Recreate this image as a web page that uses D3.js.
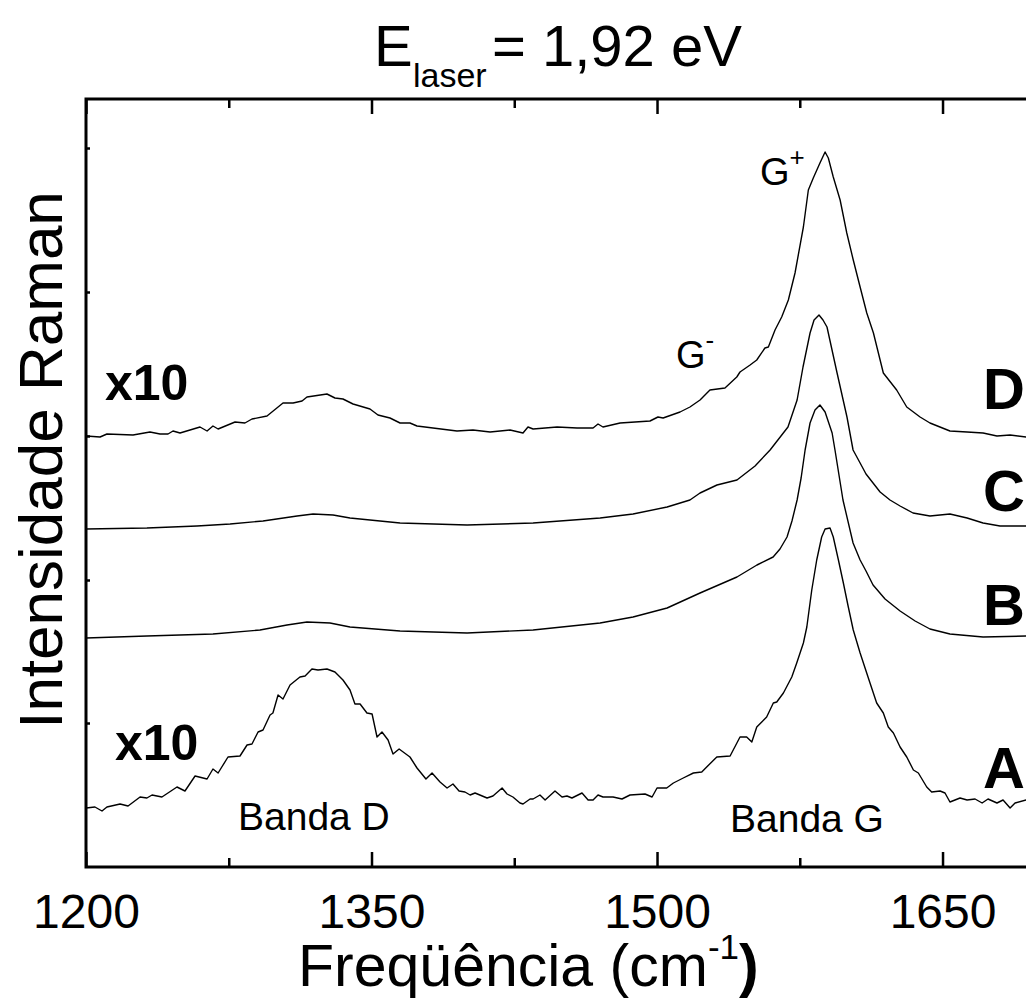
<!DOCTYPE html>
<html>
<head>
<meta charset="utf-8">
<script src="https://cdn.jsdelivr.net/npm/d3@7"></script>
<style>
  html, body { margin: 0; padding: 0; background: #fff; }
  svg { display: block; }
  text { font-family: "Liberation Sans", Arial, Helvetica, sans-serif; fill: #000; }
</style>
</head>
<body>
<script>
// Raman spectra (frequency in cm^-1, intensity in arbitrary units, stacked offsets)
const xMajorTicks = [1200, 1350, 1500, 1650];
const xMinorTicks = [1275, 1425, 1575];
const yTicks = [144, 287, 431, 575, 719];

// Sample A (x10)
const spectrumA = [
  [1200,59],[1204.7,60],[1208.4,56],[1211,60],[1217.9,63],[1222.1,61],[1228.4,70],[1232,69],
  [1234.7,72],[1239.9,70],[1247.8,80],[1252,76],[1257.3,91],[1263.6,88],[1266.7,98],[1269.4,94],
  [1274.6,110],[1280.9,111],[1284.6,122],[1287.2,123],[1290.4,135],[1293,137],[1296.7,152],
  [1298.2,154],[1300.9,172],[1303.5,168],[1307.2,182],[1312.4,190],[1315.1,191],[1318.7,198],
  [1321.9,197],[1326.6,198],[1330.8,195],[1335,187],[1338.7,177],[1341.3,163],[1344,163],
  [1347.6,154],[1350.3,153],[1352.9,130],[1355.5,135],[1358.7,127],[1361.3,113],[1364.5,118],
  [1370.2,110],[1373.9,99],[1378.6,88],[1381.8,94],[1386,85],[1389.7,79],[1392.8,83],[1396,76],
  [1399.1,75],[1401.8,72],[1404.4,74],[1410.7,69],[1413.8,71],[1418.6,79],[1421.2,73],[1424.3,70],
  [1428,64],[1429.6,63],[1433.3,68],[1434.9,68],[1438.5,72],[1441.2,67],[1446.4,76],[1450.1,70],
  [1452.7,71],[1455.3,69],[1460.6,74],[1463.8,67],[1466.4,67],[1469,72],[1471.6,70],[1476.9,70],
  [1481.6,68],[1485.8,72],[1493.7,73],[1497.4,70],[1500,79],[1501.6,79],[1505.1,79],[1508.6,84],
  [1513.8,89],[1519.1,94],[1523.5,95],[1526.1,100],[1531.4,110],[1538.4,111],[1543.6,130],
  [1547.1,130],[1549.8,125],[1552.4,140],[1557.6,150],[1561.1,164],[1562.9,165],[1566.4,174],
  [1570.8,190],[1573.4,204],[1576.9,224],[1578.7,240],[1581.3,277],[1583.9,307],[1586.5,330],
  [1588.3,338],[1590.9,339],[1592.6,330],[1595.3,307],[1597.9,284],[1600.5,260],[1603.1,237],
  [1606.7,214],[1611.9,184],[1615.4,164],[1618.9,154],[1621.5,140],[1624.2,134],[1627.7,120],
  [1631.2,110],[1634.7,97],[1637.3,94],[1641.7,80],[1644.3,75],[1648.7,76],[1651.3,74],
  [1653.9,65],[1659.2,69],[1662.9,67],[1667.1,68],[1670.8,64],[1673.9,68],[1678.6,64],
  [1681.8,67],[1685.5,59],[1688.1,64],[1693.9,67],[1700,70]
];

// Sample B
const spectrumB = [
  [1200,229],[1232,231],[1266.7,233],[1291.4,237],[1305.6,242],[1316.1,245],[1328.2,244],
  [1338.7,240],[1365,236],[1400.2,234],[1434.9,237],[1470.1,244],[1487.4,250],[1505.3,259],
  [1522.6,274],[1542,290],[1552.5,302],[1561,310],[1564.6,318],[1568.3,330],[1570.9,346],
  [1573.6,367],[1575.7,389],[1577.8,417],[1580.4,444],[1583,457],[1585.6,462],[1588.3,455],
  [1592,434],[1593.5,417],[1597.7,367],[1603,324],[1606.7,307],[1609.8,296],[1613.5,282],
  [1619.8,268],[1627.7,256],[1635.6,246],[1643.4,238],[1653.9,233],[1671.3,230],
  [1693.9,231],[1700,231]
];

// Sample C
const spectrumC = [
  [1200,338],[1232,339],[1258.3,341],[1275.7,343],[1293,346],[1310.9,351],[1319.3,353],
  [1329.8,352],[1338.7,349],[1365,344],[1400.2,342],[1434.9,344],[1470.1,349],[1487.4,353],
  [1505.3,360],[1517.3,367],[1522.6,374],[1531.5,382],[1542,387],[1551.5,401],[1559.4,417],
  [1568.8,440],[1573.6,467],[1576.7,500],[1580.4,534],[1582.5,547],[1585.1,552],[1587.2,547],
  [1589.3,540],[1594.6,494],[1599.8,450],[1603,417],[1606.7,404],[1609.8,393],[1613.5,384],
  [1617.2,375],[1622.4,367],[1627.7,361],[1634.5,354],[1643.4,351],[1653.9,353],[1662.9,349],
  [1671.3,344],[1680.2,341],[1693.9,341],[1700,341]
];

// Sample D (x10)
const spectrumD = [
  [1200,431],[1207.4,430],[1211,433],[1224.7,432],[1233.6,435],[1238.9,433],[1243.1,433],
  [1245.7,436],[1249.4,434],[1259.9,440],[1263.6,436],[1266.7,441],[1269.4,438],[1278.3,445],
  [1283.5,444],[1287.2,448],[1295.1,451],[1303.5,464],[1308.8,464],[1313.5,466],[1316.1,470],
  [1326.6,473],[1330.8,469],[1335,468],[1340.3,463],[1349.2,458],[1353.4,452],[1359.7,449],
  [1365,444],[1370.2,444],[1373.9,441],[1394.9,436],[1403.3,437],[1412.3,435],[1422.8,437],
  [1429.6,434],[1432.2,440],[1434.9,438],[1447.5,440],[1458,439],[1466.4,439],[1469,443],
  [1471.6,440],[1480.6,444],[1496.3,446],[1500.5,450],[1503.2,449],[1512.1,455],[1517.3,460],
  [1522.6,467],[1527.8,477],[1535.7,479],[1541.9,490],[1543.6,495],[1548.9,502],[1552.4,507],
  [1556.7,519],[1558.5,520],[1562,537],[1565.5,550],[1569,567],[1572.5,594],[1576.9,640],
  [1579.5,677],[1582.1,689],[1585.6,704],[1588.3,715],[1590,709],[1592.6,690],[1596.2,667],
  [1599.7,634],[1603.1,607],[1606.7,580],[1610.2,554],[1613.7,534],[1618.9,494],[1625.9,477],
  [1631.2,460],[1638.2,450],[1643.4,444],[1653.9,436],[1662.9,435],[1671.3,434],[1678.6,431],
  [1685.5,432],[1693.9,430],[1700,430]
];

const spectra = [spectrumA, spectrumB, spectrumC, spectrumD];

const W = 1026, H = 1001;
const plot = { left: 86, top: 99, bottom: 867, right: 1037.7 };

const svg = d3.select("body").append("svg")
  .attr("width", W).attr("height", H)
  .attr("viewBox", `0 0 ${W} ${H}`);

svg.append("rect").attr("width", W).attr("height", H).attr("fill", "#fff");

const x = d3.scaleLinear().domain([1200, 1700]).range([plot.left, plot.right]);
const y = d3.scaleLinear().domain([0, 768]).range([plot.bottom, plot.top]);

svg.append("defs").append("clipPath").attr("id", "plot-clip")
  .append("rect")
  .attr("x", plot.left).attr("y", plot.top)
  .attr("width", plot.right - plot.left).attr("height", plot.bottom - plot.top);

// spectra
const line = d3.line().x(d => x(d[0])).y(d => y(d[1]));
svg.append("g").attr("clip-path", "url(#plot-clip)")
  .selectAll("path").data(spectra).join("path")
  .attr("d", line)
  .attr("fill", "none")
  .attr("stroke", "#000")
  .attr("stroke-width", 1.4)
  .attr("stroke-linejoin", "round");

// axes: inward ticks
function styleAxis(g) {
  g.select(".domain").remove();
  g.selectAll(".tick line").attr("stroke", "#000").attr("stroke-width", 2.5);
}

svg.append("g").attr("transform", `translate(0,${plot.bottom})`)
  .call(d3.axisBottom(x).tickValues(xMajorTicks).tickSize(-15).tickFormat(d3.format("d")))
  .call(styleAxis)
  .call(g => g.selectAll(".tick text")
    .attr("y", 61).attr("dy", 0)
    .attr("font-size", 48)
    .attr("font-family", "Liberation Sans, Arial, sans-serif")
    .attr("fill", "#000"));

svg.append("g").attr("transform", `translate(0,${plot.bottom})`)
  .call(d3.axisBottom(x).tickValues(xMinorTicks).tickSize(-9).tickFormat(""))
  .call(styleAxis);

svg.append("g").attr("transform", `translate(0,${plot.top})`)
  .call(d3.axisTop(x).tickValues(xMajorTicks).tickSize(-15).tickFormat(""))
  .call(styleAxis);

svg.append("g").attr("transform", `translate(0,${plot.top})`)
  .call(d3.axisTop(x).tickValues(xMinorTicks).tickSize(-9).tickFormat(""))
  .call(styleAxis);

svg.append("g").attr("transform", `translate(${plot.left},0)`)
  .call(d3.axisLeft(y).tickValues(yTicks).tickSize(-4).tickFormat(""))
  .call(styleAxis);

// frame (left, top, bottom; right side runs past the page edge)
const frame = svg.append("g").attr("stroke", "#000").attr("stroke-width", 3).attr("fill", "none");
frame.append("path")
  .attr("d", `M${plot.right},${plot.top} H${plot.left} V${plot.bottom} H${plot.right}`)
  .attr("stroke-linejoin", "miter");

// title: E_laser = 1,92 eV
const title = svg.append("g");
title.append("text").attr("x", 374).attr("y", 66).attr("font-size", 58).text("E");
title.append("text").attr("x", 413).attr("y", 87).attr("font-size", 34).text("laser");
title.append("text").attr("x", 492).attr("y", 66).attr("font-size", 58).text("= 1,92 eV");

// axis titles
svg.append("text")
  .attr("transform", "translate(62,460) rotate(-90)")
  .attr("text-anchor", "middle")
  .attr("font-size", 62)
  .text("Intensidade Raman");

const xt = svg.append("text").attr("x", 298).attr("y", 986).attr("font-size", 59);
xt.append("tspan").text("Freqüência (cm");
xt.append("tspan").attr("font-size", 35).attr("dy", -27).text("-1");
xt.append("tspan").attr("dy", 27).attr("font-weight", "bold").text(")");

// annotations
const bold = svg.append("g").attr("font-weight", "bold");
bold.append("text").attr("x", 105).attr("y", 400).attr("font-size", 50).text("x10");
bold.append("text").attr("x", 115).attr("y", 760).attr("font-size", 50).text("x10");
bold.append("text").attr("x", 983).attr("y", 409).attr("font-size", 58).text("D");
bold.append("text").attr("x", 983).attr("y", 511).attr("font-size", 58).text("C");
bold.append("text").attr("x", 983).attr("y", 625).attr("font-size", 58).text("B");
bold.append("text").attr("x", 983).attr("y", 788).attr("font-size", 58).text("A");

const gp = svg.append("text").attr("x", 760).attr("y", 185).attr("font-size", 38);
gp.append("tspan").text("G");
gp.append("tspan").attr("font-size", 26).attr("dy", -19).text("+");

const gm = svg.append("text").attr("x", 676).attr("y", 368).attr("font-size", 38);
gm.append("tspan").text("G");
gm.append("tspan").attr("font-size", 26).attr("dy", -19).text("-");

svg.append("text").attr("x", 238).attr("y", 830).attr("font-size", 39).text("Banda D");
svg.append("text").attr("x", 730).attr("y", 832).attr("font-size", 39).text("Banda G");
</script>
</body>
</html>
